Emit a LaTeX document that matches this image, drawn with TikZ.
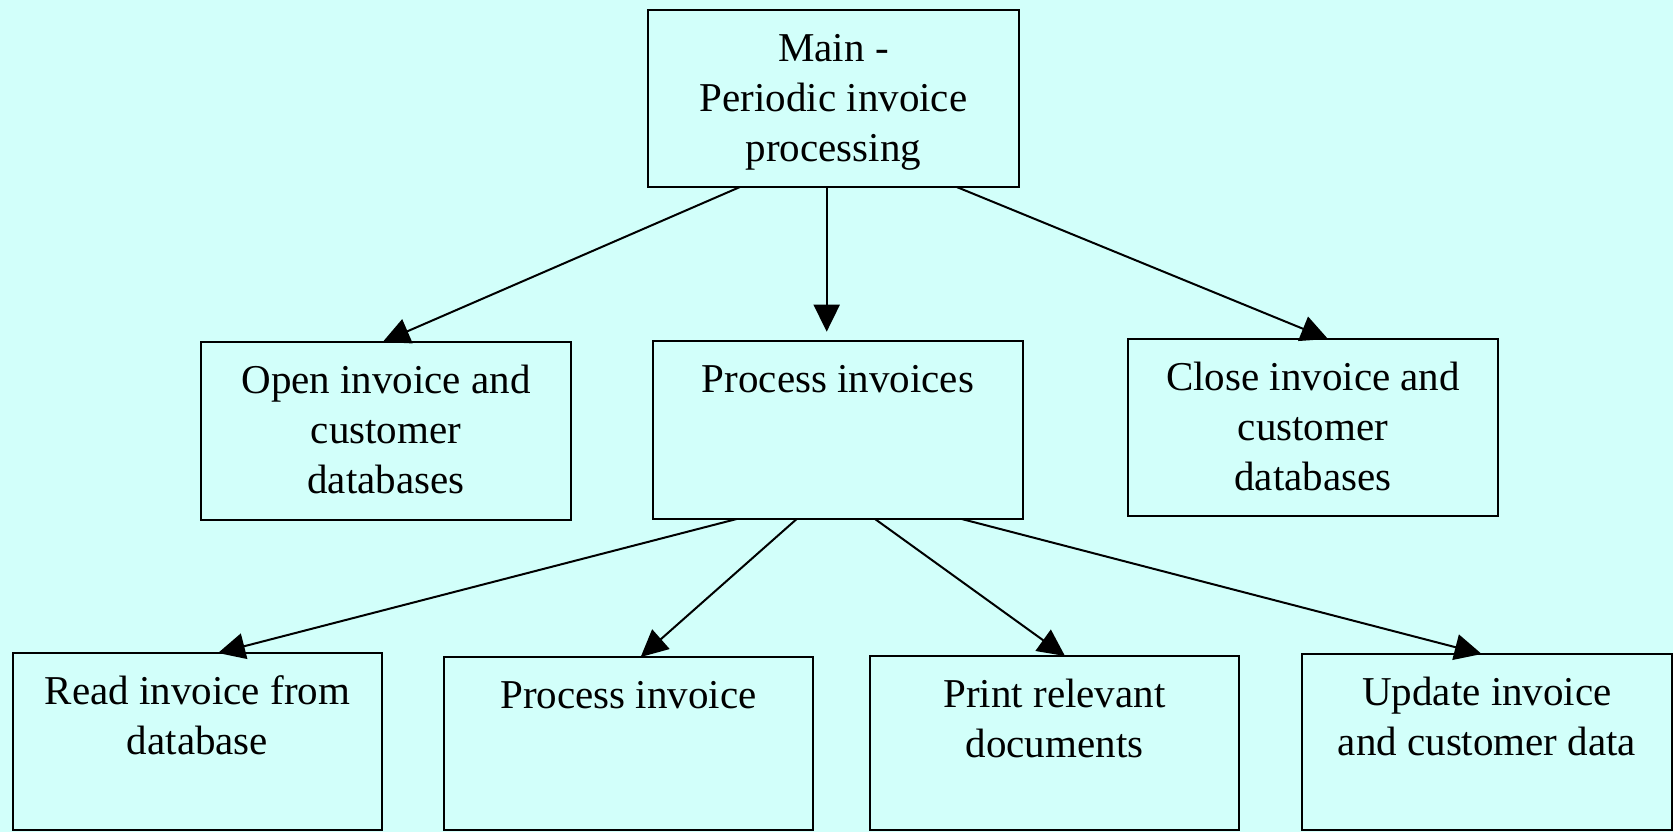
\documentclass[tikz,border=0pt]{standalone}
\usepackage{fontspec}
\setmainfont{Liberation Serif}
\usetikzlibrary{arrows.meta}
\definecolor{bgcyan}{RGB}{210,255,250}
\tikzset{
  box/.style={draw=black, line width=2pt, rectangle, inner sep=0pt, outer sep=0pt},
  txt/.style={anchor=north, inner sep=0pt, align=center, font=\fontsize{41}{50}\selectfont},
  link/.style={line width=2pt, -{Triangle[length=27pt,width=26pt]}}
}
\newcommand{\toptext}{\rule{0pt}{51pt}}
\begin{document}
\begin{tikzpicture}[x=1pt,y=-1pt]
  \fill[bgcyan] (0,0) rectangle (1673,832);
  \useasboundingbox (0,0) rectangle (1673,832);

  % top level
  \node[box, minimum width=371pt, minimum height=177pt] (main) at (833.5,98.5) {};
  \node[txt] (maint) at (main.north) {\toptext Main -\\Periodic invoice\\processing};

  % second level
  \node[box, minimum width=370pt, minimum height=178pt] (open) at (386,431) {};
  \node[txt] (opent) at (open.north) {\toptext Open invoice and\\customer\\databases};

  \node[box, minimum width=370pt, minimum height=178pt] (procs) at (838,430) {};
  \node[txt] (procst) at (procs.north) {\toptext Process invoices};

  \node[box, minimum width=370pt, minimum height=177pt] (close) at (1313,427.5) {};
  \node[txt] (closet) at (close.north) {\toptext Close invoice and\\customer\\databases};

  % third level
  \node[box, minimum width=369pt, minimum height=177pt] (read) at (197.5,741.5) {};
  \node[txt] (readt) at (read.north) {\toptext Read invoice from\\database};

  \node[box, minimum width=369pt, minimum height=173pt] (procone) at (628.5,743.5) {};
  \node[txt] (proconet) at (procone.north) {\toptext Process invoice};

  \node[box, minimum width=369pt, minimum height=174pt] (print) at (1054.5,743) {};
  \node[txt] (printt) at (print.north) {\toptext Print relevant\\documents};

  \node[box, minimum width=370pt, minimum height=176pt] (update) at (1487,742) {};
  \node[txt] (updatet) at (update.north) {\toptext Update invoice\\and customer data};

  % connectors from the main routine
  \draw[link] ([xshift=-93.5pt]main.south) -- ([xshift=-3.3pt]open.north);
  \draw[link] ([xshift=-6.8pt]main.south) -- ([xshift=-11.3pt,yshift=9.3pt]procs.north);
  \draw[link] ([xshift=123.2pt]main.south) -- ([xshift=15pt]close.north);

  % connectors from the processing routine
  \draw[link] ([xshift=-101.3pt]procs.south) -- ([xshift=20.5pt]read.north);
  \draw[link] ([xshift=-41.3pt]procs.south) -- ([xshift=12.2pt]procone.north);
  \draw[link] ([xshift=37pt]procs.south) -- ([xshift=10.5pt]print.north);
  \draw[link] ([xshift=123.7pt]procs.south) -- ([xshift=-5.3pt]update.north);
\end{tikzpicture}
\end{document}
